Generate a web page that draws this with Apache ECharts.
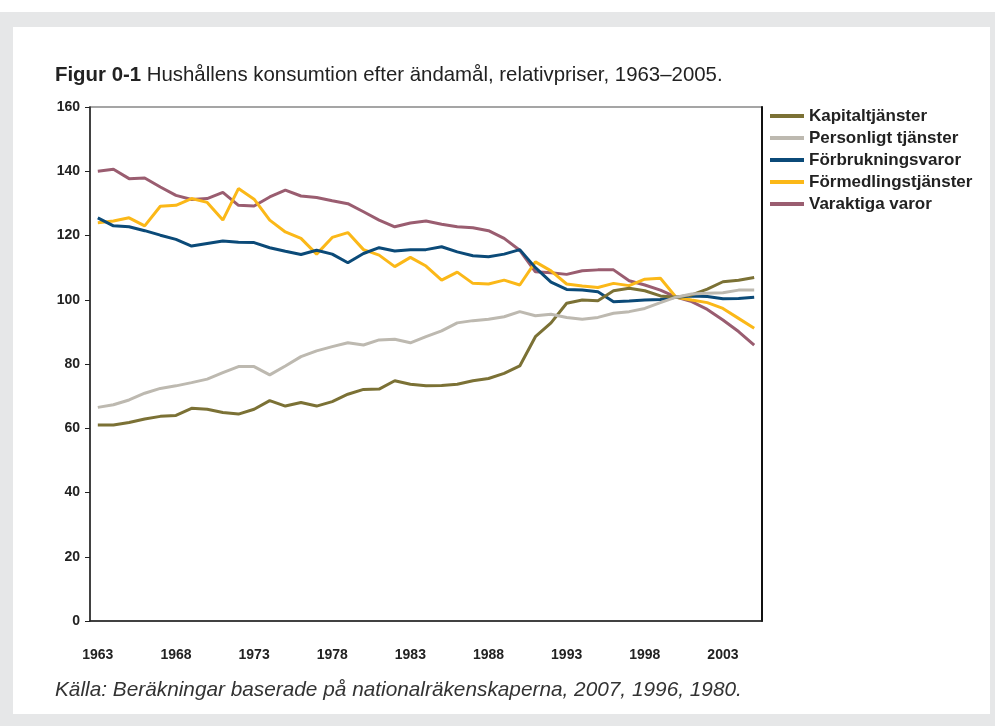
<!DOCTYPE html>
<html>
<head>
<meta charset="utf-8">
<title>Hushållens konsumtion</title>
<script src="https://cdn.jsdelivr.net/npm/echarts@6/dist/echarts.min.js"></script>
<style>
  body { margin: 0; background: #fff; }
  #band { position: absolute; left: 0; top: 12px; width: 995px; height: 714px; background: #e6e7e8; }
  #panel { position: absolute; left: 13px; top: 27px; width: 977px; height: 687px; background: #fff; }
  #main { position: absolute; left: 0; top: 0; width: 995px; height: 726px; }
</style>
</head>
<body>
<div id="band"></div>
<div id="panel"></div>
<div id="main"></div>
<script type="text/javascript">
// år 1963-2005
var years = [];
for (var y = 1963; y <= 2005; y++) years.push(String(y));

var kapitaltjanster = [61.0, 61.0, 61.8, 62.9, 63.7, 64.0, 66.2, 65.9, 64.9, 64.4, 65.9, 68.6, 66.9, 68.0, 66.9, 68.3,
  70.6, 72.1, 72.2, 74.8, 73.7, 73.2, 73.3, 73.7, 74.8, 75.5, 77.1, 79.4, 88.5, 92.8,
  98.9, 99.9, 99.7, 102.8, 103.6, 102.8, 101.2, 100.8, 101.5, 103.3, 105.6, 106.1, 106.9];
var personligt = [66.5, 67.3, 68.8, 70.9, 72.4, 73.2, 74.2, 75.3, 77.3, 79.2, 79.2, 76.6, 79.4, 82.3, 84.1, 85.4,
  86.6, 85.9, 87.5, 87.7, 86.6, 88.5, 90.3, 92.8, 93.5, 93.9, 94.7, 96.3, 95.0, 95.5,
  94.5, 93.9, 94.5, 95.8, 96.3, 97.3, 99.1, 100.8, 101.8, 102.0, 102.2, 103.0, 103.0];
var forbrukningsvaror = [125.5, 123.0, 122.7, 121.5, 120.1, 118.8, 116.7, 117.5, 118.3, 117.9, 117.8, 116.2, 115.1, 114.1, 115.4, 114.2,
  111.5, 114.4, 116.2, 115.2, 115.6, 115.6, 116.5, 114.9, 113.7, 113.4, 114.2, 115.6, 110.0, 105.5,
  103.2, 103.0, 102.5, 99.4, 99.6, 99.9, 100.1, 100.8, 101.2, 101.0, 100.3, 100.4, 100.8];
var formedlingstjanster = [124.0, 124.5, 125.5, 123.0, 129.1, 129.4, 131.5, 130.3, 124.8, 134.6, 131.3, 124.8, 121.1, 119.1, 114.2, 119.4,
  120.9, 115.6, 113.9, 110.3, 113.2, 110.5, 106.1, 108.6, 105.1, 104.9, 106.1, 104.6, 111.8, 109.0,
  104.9, 104.3, 103.8, 105.1, 104.4, 106.4, 106.7, 100.8, 99.9, 99.1, 97.3, 94.2, 91.1];
var varaktiga = [140.0, 140.6, 137.7, 137.9, 135.1, 132.5, 131.2, 131.5, 133.4, 129.4, 129.2, 132.0, 134.1, 132.3, 131.8, 130.8,
  129.9, 127.4, 124.8, 122.7, 123.9, 124.5, 123.5, 122.7, 122.4, 121.5, 119.1, 115.4, 108.7, 108.4,
  107.9, 109.0, 109.3, 109.3, 105.9, 104.6, 103.0, 100.8, 99.4, 97.0, 93.7, 90.1, 85.9];

var names = ['Kapitaltjänster', 'Personligt tjänster', 'Förbrukningsvaror', 'Förmedlingstjänster', 'Varaktiga varor'];
var colors = ['#7b7135', '#bdb9b0', '#0b4a78', '#fbb818', '#9a5d70'];

var myChart = echarts.init(document.getElementById('main'));

function line(i, data) {
  return {
    name: names[i], type: 'line', data: data, showSymbol: false, symbol: 'none',
    lineStyle: { width: 3, color: colors[i] }, itemStyle: { color: colors[i] }
  };
}

var option = {
  animation: false,
  textStyle: { fontFamily: 'Liberation Sans' },
  title: [{
    text: '{b|Figur 0-1} Hushållens konsumtion efter ändamål, relativpriser, 1963–2005.',
    left: 50, top: 60,
    textStyle: { fontSize: 20.4, fontWeight: 'normal', color: '#222',
      rich: { b: { fontSize: 20.4, fontWeight: 'bold', color: '#222' } } }
  }, {
    text: 'Källa: Beräkningar baserade på nationalräkenskaperna, 2007, 1996, 1980.',
    left: 50, top: 675,
    textStyle: { fontSize: 20.8, fontWeight: 'normal', fontStyle: 'italic', color: '#333' }
  }],
  legend: {
    orient: 'vertical', left: 765, top: 102,
    data: names, icon: 'rect', itemWidth: 34, itemHeight: 4, itemGap: 4,
    textStyle: { fontSize: 17, fontWeight: 'bold', color: '#222', lineHeight: 18 }
  },
  grid: { left: 90, right: 233, top: 107, bottom: 105, show: true, borderColor: '#888', borderWidth: 1.5 },
  xAxis: {
    type: 'category', data: years, boundaryGap: true,
    axisLine: { lineStyle: { color: '#222', width: 1.5 } },
    axisTick: { interval: 0, length: 6, lineStyle: { color: '#222' } },
    axisLabel: { interval: 4, margin: 27, fontSize: 14, fontWeight: 'bold', color: '#222' }
  },
  yAxis: [{
    type: 'value', min: 0, max: 160, interval: 20,
    axisLine: { show: true, lineStyle: { color: '#222', width: 1.5 } },
    axisTick: { show: true, length: 5, lineStyle: { color: '#222' } },
    axisLabel: { margin: 10, fontSize: 14, fontWeight: 'bold', color: '#222' },
    splitLine: { show: false }
  }, {
    type: 'value', min: 0, max: 160, interval: 20, position: 'right',
    axisLine: { show: true, lineStyle: { color: '#111', width: 2 } },
    axisTick: { show: false }, axisLabel: { show: false }, splitLine: { show: false }
  }],
  series: [
    line(4, varaktiga),
    line(3, formedlingstjanster),
    line(2, forbrukningsvaror),
    line(0, kapitaltjanster),
    line(1, personligt)
  ]
};
myChart.setOption(option);
</script>
</body>
</html>
